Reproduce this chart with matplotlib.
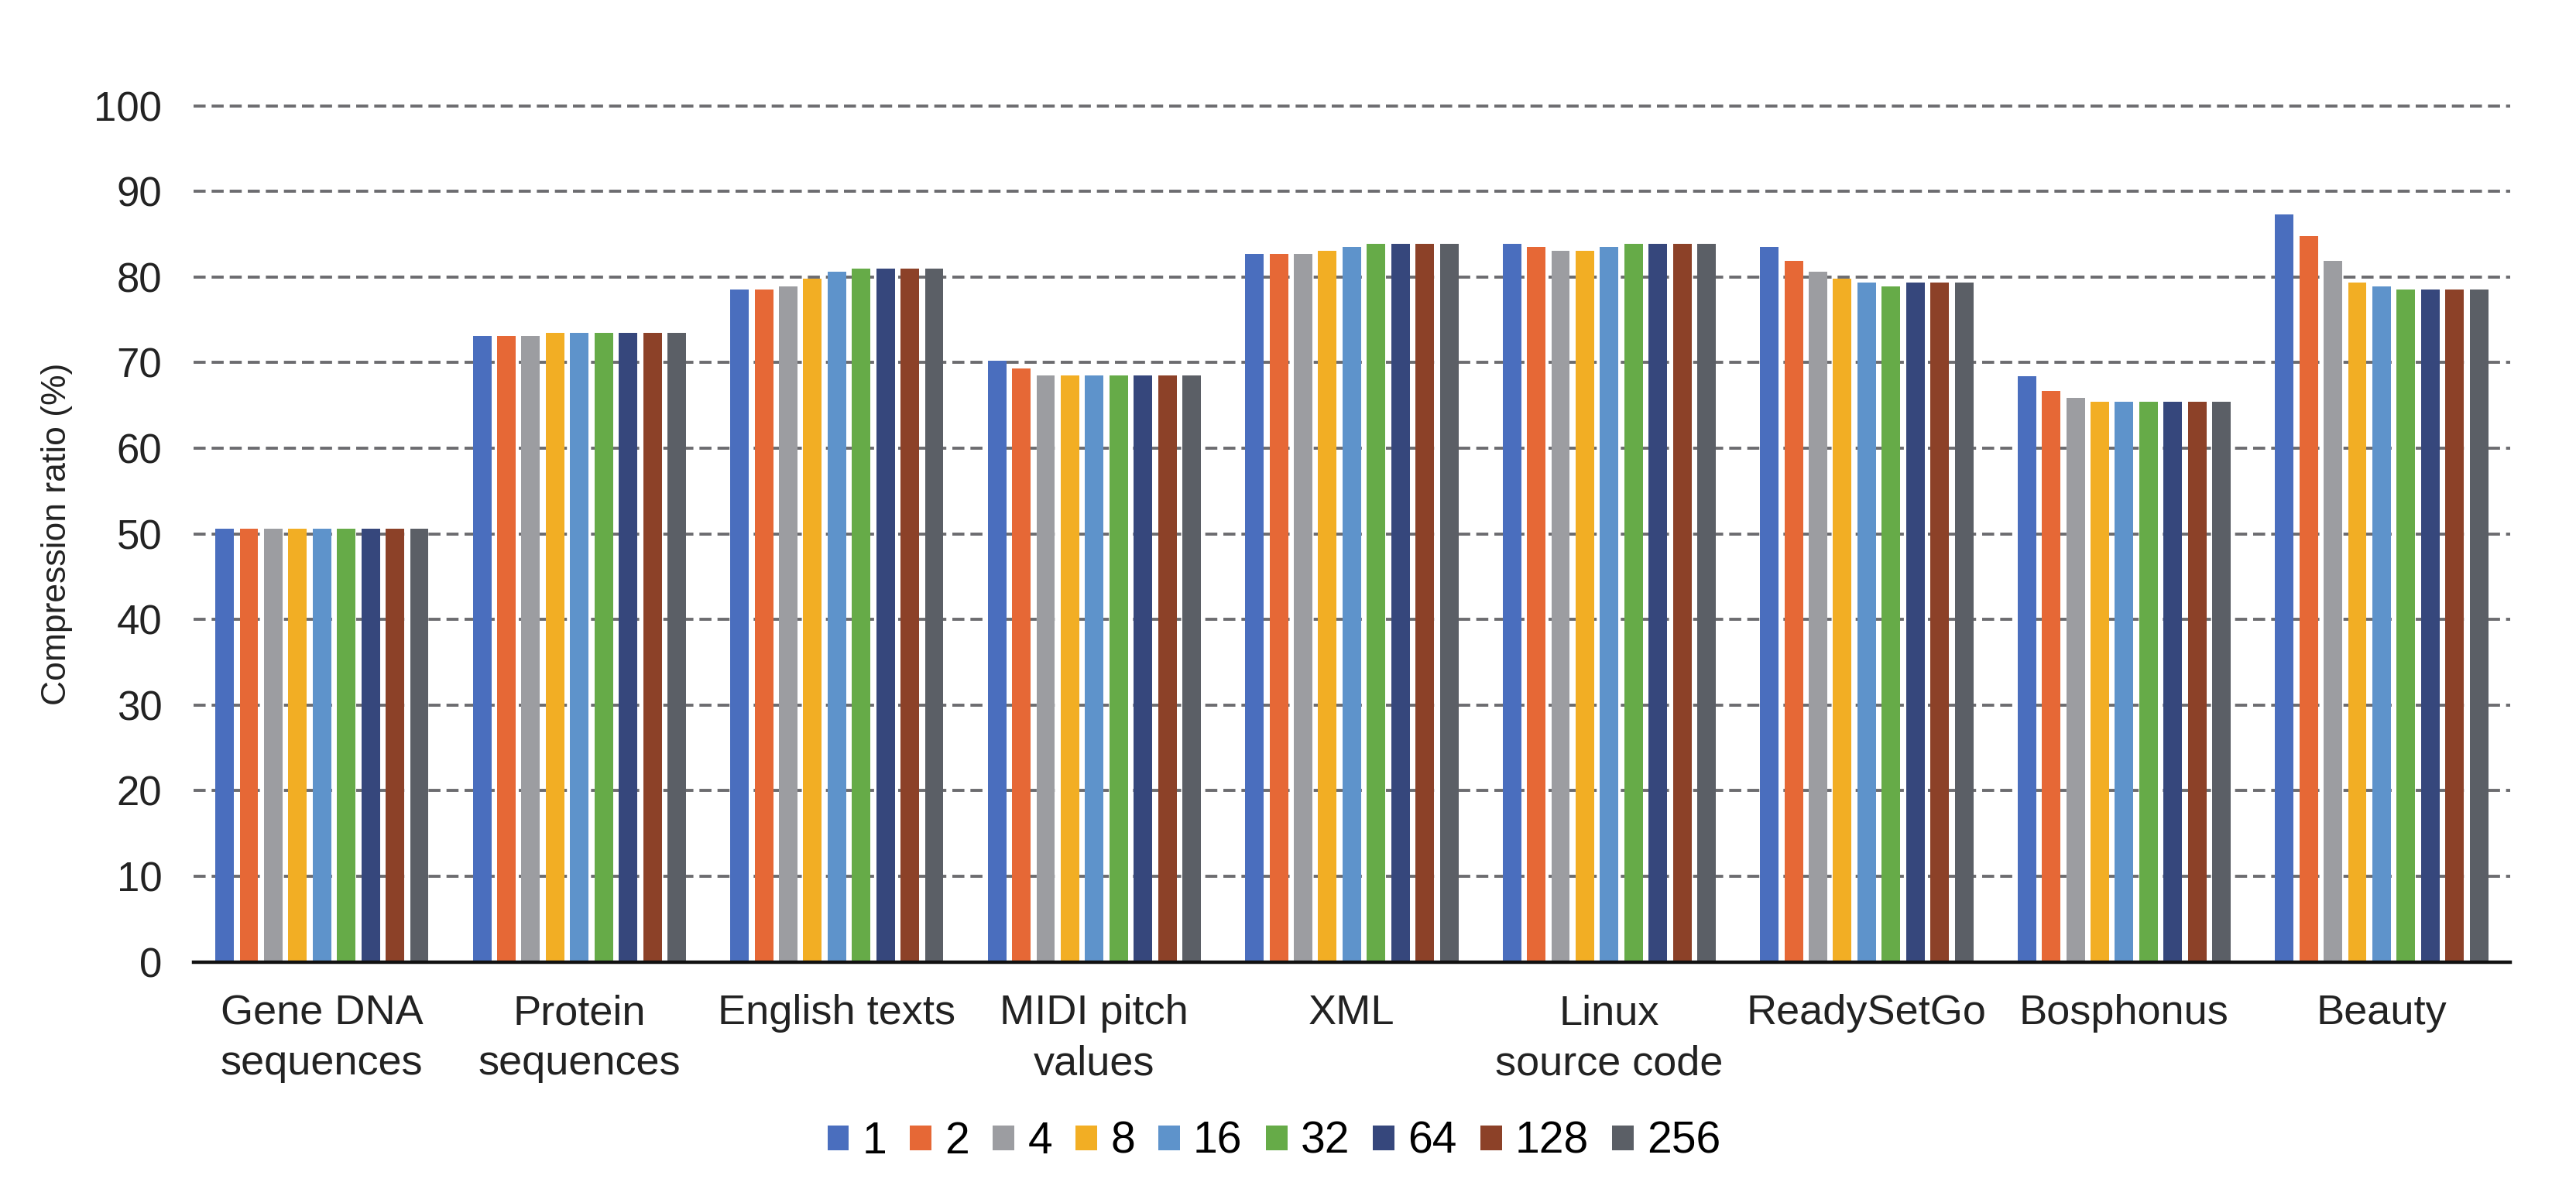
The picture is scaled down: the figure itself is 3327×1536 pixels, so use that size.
import numpy as np
import matplotlib.pyplot as plt

plt.rcParams['font.family'] = ['Liberation Sans', 'DejaVu Sans']

categories = ['Gene DNA\nsequences', 'Protein\nsequences', 'English texts', 'MIDI pitch\nvalues',
              'XML', 'Linux\nsource code', 'ReadySetGo', 'Bosphonus', 'Beauty']
series = ['1', '2', '4', '8', '16', '32', '64', '128', '256']

# compression ratio (%) per dataset, one list per series
s1 = [50.6, 73.1, 78.5, 70.2, 82.7, 83.9, 83.5, 68.4, 87.3]
s2 = [50.6, 73.1, 78.5, 69.3, 82.7, 83.5, 81.9, 66.7, 84.8]
s4 = [50.6, 73.1, 78.9, 68.5, 82.7, 83.1, 80.6, 65.9, 81.9]
s8 = [50.6, 73.5, 79.8, 68.5, 83.1, 83.1, 79.8, 65.4, 79.4]
s16 = [50.6, 73.5, 80.6, 68.5, 83.5, 83.5, 79.4, 65.4, 78.9]
s32 = [50.6, 73.5, 81.0, 68.5, 83.9, 83.9, 78.9, 65.4, 78.5]
s64 = [50.6, 73.5, 81.0, 68.5, 83.9, 83.9, 79.4, 65.4, 78.5]
s128 = [50.6, 73.5, 81.0, 68.5, 83.9, 83.9, 79.4, 65.4, 78.5]
s256 = [50.6, 73.5, 81.0, 68.5, 83.9, 83.9, 79.4, 65.4, 78.5]
values = [s1, s2, s4, s8, s16, s32, s64, s128, s256]

colors = ['#4A6EBE', '#E66836', '#9C9DA1', '#F2AE24', '#5E93CB',
          '#66AB48', '#36477C', '#8C4128', '#5B5F66']

fig = plt.figure(figsize=(33.27, 15.36), dpi=100)
ax = fig.add_axes([0.075, 0.191, 0.8995, 0.72])

x = np.arange(len(categories))
step = 0.0945
for j, (vals, c, name) in enumerate(zip(values, colors, series)):
    ax.bar(x + (j - 4) * step, vals, width=0.072, color=c, label=name, zorder=3)

ax.set_xlim(-0.5, len(categories) - 0.5)
ax.set_ylim(0, 100)
ax.set_yticks(np.arange(0, 101, 10))
ax.yaxis.grid(True, color='#6C6C70', linestyle=(0, (4, 2)), linewidth=2.8, zorder=0)
ax.set_axisbelow(True)
for gl in ax.get_ygridlines():
    gl.set_clip_on(False)

for s in ['top', 'right', 'left']:
    ax.spines[s].set_visible(False)
ax.spines['bottom'].set_color('#111111')
ax.spines['bottom'].set_linewidth(3.2)
ax.spines['bottom'].set_zorder(4)

ax.set_xticks(x)
ax.set_xticklabels(categories, fontsize=39, va='top', linespacing=1.38)
ax.tick_params(axis='x', length=0, pad=30, colors='#222222')
ax.tick_params(axis='y', length=0, pad=29, labelsize=38, colors='#222222')
ax.set_ylabel('Compression ratio (%)', fontsize=32, color='#222222', labelpad=20)

ax.legend(loc='center', bbox_to_anchor=(0.4665, -0.21), ncol=9, frameon=False,
          fontsize=41, handlelength=0.49, handleheight=0.49, handletextpad=0.3,
          columnspacing=0.53)

fig.savefig('out.png', dpi=100)
